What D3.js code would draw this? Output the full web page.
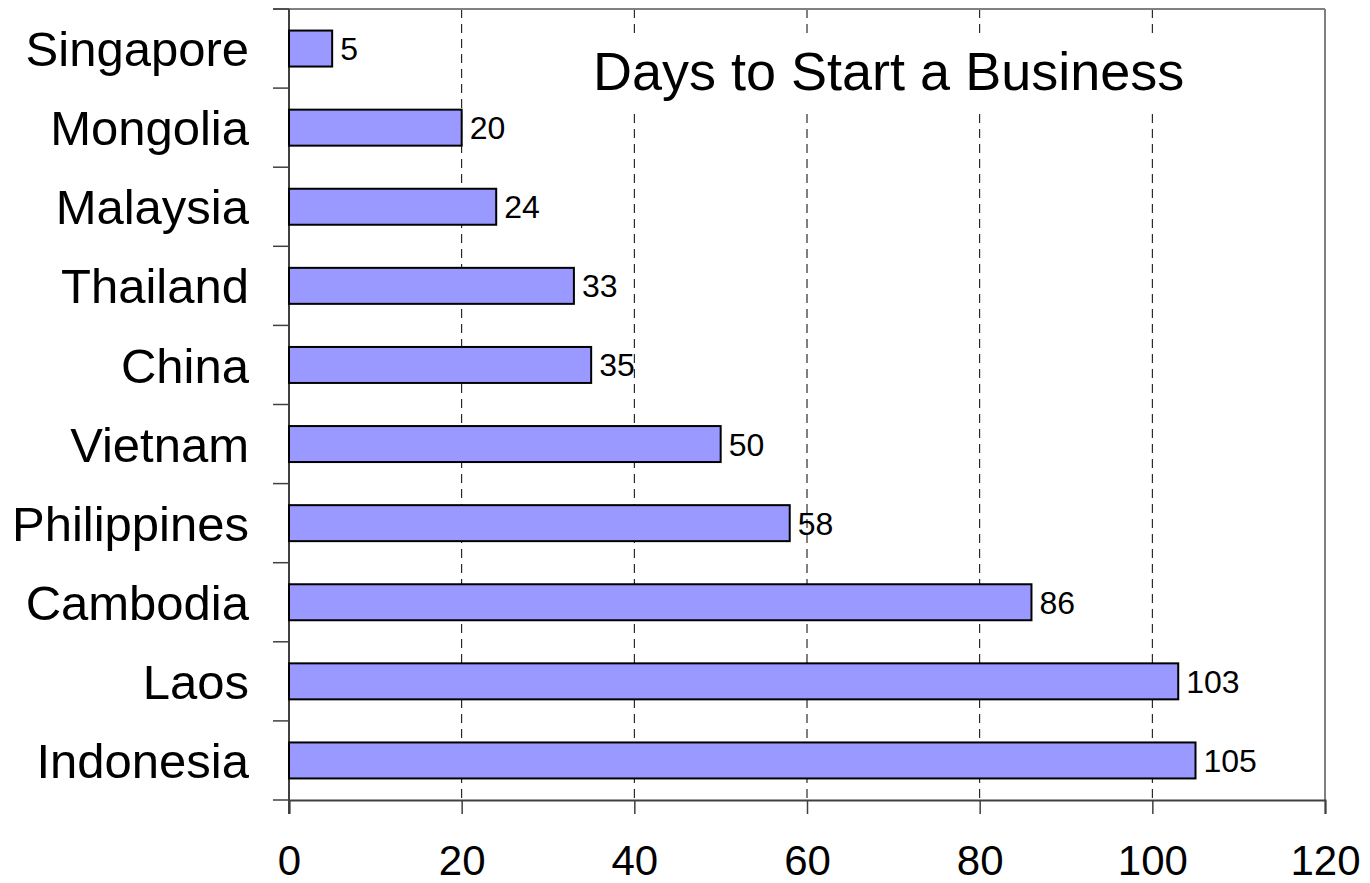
<!DOCTYPE html>
<html>
<head>
<meta charset="utf-8">
<script src="https://cdn.jsdelivr.net/npm/d3@7"></script>
<style>
  body { margin: 0; background: #fff; }
  svg { display: block; font-family: "Liberation Sans", Arial, sans-serif; }
</style>
</head>
<body>
<svg id="chart" width="1370" height="883"></svg>
<script>
// data
var countries = ["Singapore", "Mongolia", "Malaysia", "Thailand", "China",
                 "Vietnam", "Philippines", "Cambodia", "Laos", "Indonesia"];
var days = [5, 20, 24, 33, 35, 50, 58, 86, 103, 105];
var xTicks = [0, 20, 40, 60, 80, 100, 120];
var title = "Days to Start a Business";

var margin = {top: 9, right: 45, bottom: 83, left: 289},
    width = 1370 - margin.left - margin.right,
    height = 883 - margin.top - margin.bottom;

var svg = d3.select("#chart")
  .append("g")
    .attr("transform", "translate(" + margin.left + "," + margin.top + ")");

var x = d3.scaleLinear()
  .domain([0, 120])
  .range([0, width]);

var y = d3.scaleBand()
  .domain(countries)
  .range([0, height])
  .paddingInner(0.545)
  .paddingOuter(0.2725);

// gridlines (dashed)
svg.append("g")
  .attr("class", "grid")
  .selectAll("line")
  .data(xTicks.slice(1, -1))
  .enter().append("line")
    .attr("x1", function(d) { return x(d); })
    .attr("x2", function(d) { return x(d); })
    .attr("y1", 0)
    .attr("y2", height)
    .attr("stroke", "#000")
    .attr("stroke-width", 1)
    .attr("stroke-dasharray", "9,6");

// title sits on a white box that hides the grid
var titleG = svg.append("g");
var titleBox = titleG.append("rect").attr("fill", "#fff");
var titleText = titleG.append("text")
  .text(title)
  .attr("x", 304)
  .attr("y", 81)
  .style("font-size", "54px");
var bb = titleText.node().getBBox();
titleBox
  .attr("x", bb.x - 10)
  .attr("y", bb.y - 6)
  .attr("width", bb.width + 20)
  .attr("height", bb.height + 16);

// frame top + right
svg.append("line")
  .attr("x1", -16).attr("x2", width).attr("y1", 0).attr("y2", 0)
  .attr("stroke", "#808080").attr("stroke-width", 2);
svg.append("line")
  .attr("x1", width).attr("x2", width).attr("y1", 0).attr("y2", height)
  .attr("stroke", "#808080").attr("stroke-width", 2);

// x axis
var xAxis = svg.append("g")
  .attr("class", "axis x")
  .attr("transform", "translate(0," + height + ")")
  .call(d3.axisBottom(x).tickValues(xTicks).tickSize(14).tickPadding(31));
xAxis.select(".domain").attr("stroke", "#404040").attr("stroke-width", 2);
xAxis.selectAll(".tick line").attr("stroke", "#404040").attr("stroke-width", 1.5);
xAxis.selectAll("text")
  .style("font-size", "42px")
  .attr("fill", "#000");

// y axis: ticks on the band boundaries
var step = y.step();
var bounds = countries.map(function(c) { return y(c) - step * y.paddingInner() / 2; });
bounds.push(height);
var yAxis = svg.append("g").attr("class", "axis y");
yAxis.append("line")
  .attr("x1", 0).attr("x2", 0).attr("y1", 0).attr("y2", height + 14)
  .attr("stroke", "#404040").attr("stroke-width", 2);
yAxis.selectAll("line.tk")
  .data(bounds)
  .enter().append("line")
    .attr("class", "tk")
    .attr("x1", -16).attr("x2", 0)
    .attr("y1", function(d) { return d; })
    .attr("y2", function(d) { return d; })
    .attr("stroke", "#404040").attr("stroke-width", 1.5);
yAxis.selectAll("text")
  .data(countries)
  .enter().append("text")
    .text(function(d) { return d; })
    .attr("x", -40)
    .attr("y", function(d) { return y(d) + y.bandwidth() / 2; })
    .attr("dy", "0.36em")
    .style("text-anchor", "end")
    .style("font-size", "49px");

// bars
svg.append("g")
  .selectAll("rect")
  .data(countries)
  .enter().append("rect")
    .attr("x", 0)
    .attr("y", function(d) { return y(d); })
    .attr("width", function(d, i) { return x(days[i]); })
    .attr("height", y.bandwidth())
    .attr("fill", "#9999ff")
    .attr("stroke", "#000")
    .attr("stroke-width", 2);

// value labels
svg.append("g")
  .selectAll("text")
  .data(countries)
  .enter().append("text")
    .text(function(d, i) { return days[i]; })
    .attr("x", function(d, i) { return x(days[i]) + 8; })
    .attr("y", function(d) { return y(d) + y.bandwidth() / 2; })
    .attr("dy", "0.36em")
    .style("font-size", "32px");
</script>
</body>
</html>
